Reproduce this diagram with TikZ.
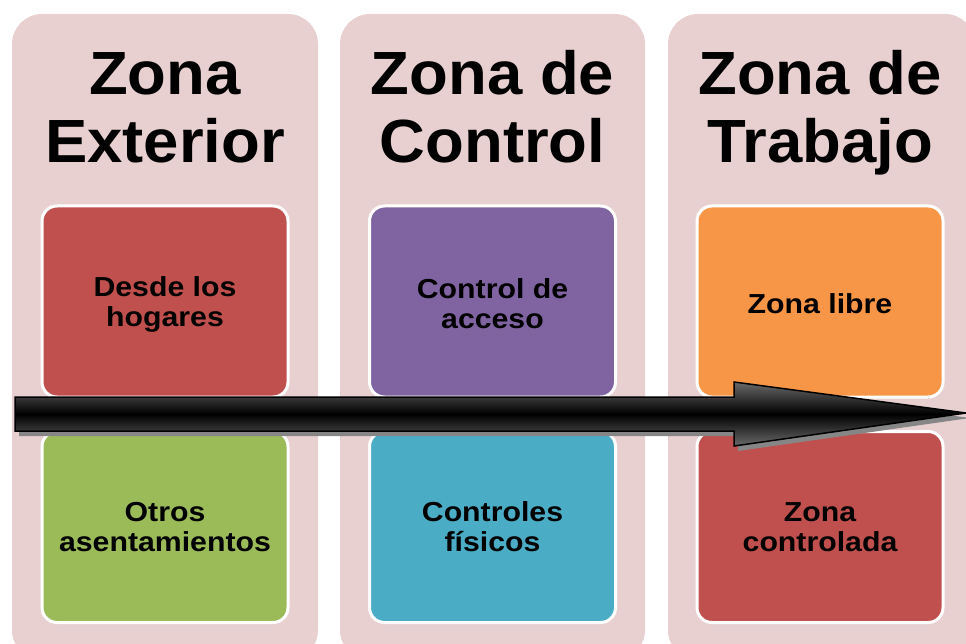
\documentclass[tikz,border=0pt]{standalone}
\usepackage{fontspec}
\setmainfont{Liberation Sans}
\newfontfamily\titlefont[FakeStretch=1.04]{Liberation Sans}
\newfontfamily\itemfont[FakeStretch=1.1]{Liberation Sans}
\usetikzlibrary{shadings}
\definecolor{colbg}{HTML}{E8D0D1}
\definecolor{cred}{HTML}{C0504D}
\definecolor{cpurple}{HTML}{8064A2}
\definecolor{corange}{HTML}{F79646}
\definecolor{cgreen}{HTML}{9BBB59}
\definecolor{cblue}{HTML}{4BACC6}
\definecolor{arrgray}{HTML}{6A6A6A}
\tikzset{
  column/.style={fill=colbg, rounded corners=30pt},
  itembox/.style={draw=white, line width=3pt, rounded corners=15pt, minimum width=246pt, minimum height=191pt, inner sep=0pt},
  title/.style={font=\titlefont\fontsize{61}{68}\selectfont\bfseries, align=center, inner sep=0pt},
  itemtext/.style={font=\itemfont\fontsize{27.5}{30}\selectfont\bfseries, align=center, inner sep=0pt},
}
\begin{document}
\begin{tikzpicture}[x=1pt,y=-1pt]
\useasboundingbox (0,0) rectangle (966,644);
\clip (0,0) rectangle (966,644);
% columns
\fill[column] (12,14) rectangle (318,660);
\fill[column] (340,14) rectangle (645,660);
\fill[column] (668,14) rectangle (975,660);
% titles
\node[title, anchor=base] (t1a) at (165,95) {Zona};
\node[title, anchor=base] (t1b) at (165,163) {Exterior};
\node[title, anchor=base] (t2a) at (492.5,95) {Zona de};
\node[title, anchor=base] (t2b) at (492.5,163) {Control};
\node[title, anchor=base] (t3a) at (820,95) {Zona de};
\node[title, anchor=base] (t3b) at (820,163) {Trabajo};
% boxes
\node[itembox, fill=cred] (b1) at (165,301.5) {};
\node[itembox, fill=cgreen] (b2) at (165,527) {};
\node[itembox, fill=cpurple] (b3) at (492.5,301.5) {};
\node[itembox, fill=cblue] (b4) at (492.5,527) {};
\node[itembox, fill=corange] (b5) at (820,301.5) {};
\node[itembox, fill=cred] (b6) at (820,527) {};
\node[itemtext] (l1) at (165,304) {Desde los\\hogares};
\node[itemtext] (l2) at (165,527) {Otros\\asentamientos};
\node[itemtext] (l3) at (492.5,304) {Control de\\acceso};
\node[itemtext] (l4) at (492.5,527) {Controles\\físicos};
\node[itemtext] (l5) at (820,304) {Zona libre};
\node[itemtext] (l6) at (820,527) {Zona\\controlada};
% arrow shadow
\fill[gray!95] (19,402) -- (738,402) -- (738,387) -- (970,418) -- (738,451) -- (738,436) -- (19,436) -- cycle;
% arrow
\draw[line width=1.5pt, line join=miter, top color=arrgray, bottom color=arrgray, middle color=black]
  (15,397) -- (734,397) -- (734,382) -- (966,413) -- (734,446) -- (734,431) -- (15,431) -- cycle;
\end{tikzpicture}
\end{document}
